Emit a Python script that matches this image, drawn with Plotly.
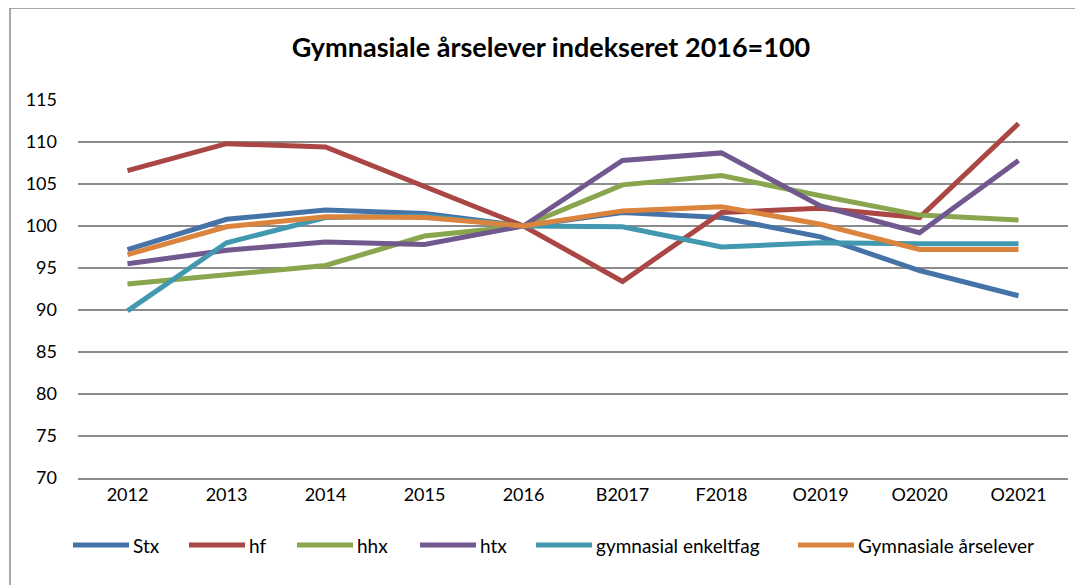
import plotly.graph_objects as go

categories = ["2012", "2013", "2014", "2015", "2016", "B2017", "F2018", "O2019", "O2020", "O2021"]
stx = [97.2, 100.8, 101.9, 101.5, 100.0, 101.6, 101.0, 98.7, 94.7, 91.7]
hf = [106.6, 109.8, 109.4, 104.7, 100.0, 93.4, 101.6, 102.1, 101.0, 112.2]
hhx = [93.1, 94.2, 95.3, 98.8, 100.0, 104.9, 106.0, 103.6, 101.3, 100.7]
htx = [95.5, 97.1, 98.1, 97.8, 100.0, 107.8, 108.7, 102.4, 99.2, 107.8]
enkeltfag = [89.9, 98.0, 101.0, 101.2, 100.0, 99.9, 97.5, 98.0, 97.9, 97.9]
aarselever = [96.6, 99.9, 101.1, 101.0, 100.0, 101.8, 102.3, 100.2, 97.2, 97.2]

names = ["Stx", "hf", "hhx", "htx", "gymnasial enkeltfag", "Gymnasiale årselever"]
series = [stx, hf, hhx, htx, enkeltfag, aarselever]
colors = ["#4572A7", "#AA4643", "#89A54E", "#71588F", "#4198AF", "#DB843D"]
yticks = [70, 75, 80, 85, 90, 95, 100, 105, 110, 115]

FONT = "Lato, Liberation Sans, Arial, sans-serif"
OFF = 8  # page body margin in the browser

fig = go.Figure()
for n, s, c in zip(names, series, colors):
    fig.add_trace(go.Scatter(x=categories, y=s, name=n, mode="lines",
                             line=dict(color=c, width=5), showlegend=False))

W, H = 1083 - OFF, 585 - OFF
L, R, T, B = 78 - OFF, 1068 - OFF, 100 - OFF, 478 - OFF


def px_x(x):
    return (x - OFF - L) / (R - L)


def px_y(y):
    return (B - (y - OFF)) / (B - T)


fig.update_layout(
    width=W, height=H,
    margin=dict(l=L, r=W - R, t=T, b=H - B),
    paper_bgcolor="white", plot_bgcolor="white",
    font=dict(family=FONT, size=18, color="#000000"),
    title=dict(text="<b>Gymnasiale årselever indekseret 2016=100</b>",
               x=(551 - OFF) / W, xanchor="center", y=1 - (48 - OFF) / H, yanchor="middle",
               font=dict(family=FONT, size=27, color="#000000")),
    xaxis=dict(type="category", range=[-0.5, 9.5], showgrid=False,
               showline=True, linecolor="#8c8c8c", linewidth=1.5,
               ticks="", tickfont=dict(size=18)),
    yaxis=dict(range=[70, 115], tickvals=yticks, showgrid=True,
               gridcolor="#8c8c8c", gridwidth=1.5, zeroline=False,
               showline=False, ticks="", ticklabelstandoff=20,
               tickfont=dict(size=18)),
    showlegend=False,
)

# manual legend (line sample + label), positioned like the reference
legend_x = [73, 189, 297, 420, 536, 798]
legend_y = 545
sample_len = 56
for n, c, lx in zip(names, colors, legend_x):
    fig.add_shape(type="line", xref="paper", yref="paper",
                  x0=px_x(lx), x1=px_x(lx + sample_len),
                  y0=px_y(legend_y), y1=px_y(legend_y),
                  line=dict(color=c, width=5))
    fig.add_annotation(xref="paper", yref="paper", x=px_x(lx + sample_len + 2),
                       y=px_y(legend_y), xanchor="left", yanchor="middle",
                       text=n, showarrow=False, font=dict(size=19, color="#000000"))

# outer chart border
fig.add_shape(type="rect", xref="paper", yref="paper",
              x0=px_x(10), x1=px_x(1079),
              y0=px_y(620), y1=px_y(8),
              line=dict(color="#8c8c8c", width=1.5), fillcolor="rgba(0,0,0,0)",
              layer="below")

fig.write_html("out.html")
